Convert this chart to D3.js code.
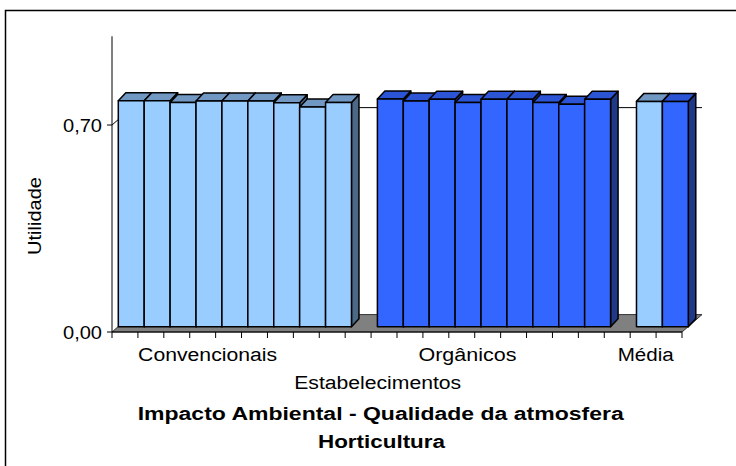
<!DOCTYPE html>
<html>
<head>
<meta charset="utf-8">
<script src="https://cdn.jsdelivr.net/npm/d3@7"></script>
<style>
  html, body { margin: 0; padding: 0; background: #fff; }
  svg { display: block; font-family: "Liberation Sans", Arial, sans-serif; }
</style>
</head>
<body>
<svg id="chart" width="736" height="466"></svg>
<script>
// Utilidade por estabelecimento (impacto ambiental, qualidade da atmosfera)
const groups = ["Convencionais", "Orgânicos", "Média"];
const convencionais = [0.764, 0.764, 0.758, 0.763, 0.763, 0.763, 0.757, 0.743, 0.758];
const organicos = [0.770, 0.763, 0.769, 0.758, 0.769, 0.769, 0.758, 0.752, 0.769];
const mediaConvencionais = [0.762];
const mediaOrganicos = [0.762];
const yTicks = [0, 0.70];
const yTickLabels = ["0,00", "0,70"];

// Slots along the category axis (empty slots separate the groups)
const slots = [];
convencionais.forEach((v, i) => slots.push({ key: "c" + i, value: v, kind: "light" }));
slots.push({ key: "gap1", value: null });
organicos.forEach((v, i) => slots.push({ key: "o" + i, value: v, kind: "dark" }));
slots.push({ key: "gap2", value: null });
mediaConvencionais.forEach((v, i) => slots.push({ key: "mc" + i, value: v, kind: "light" }));
mediaOrganicos.forEach((v, i) => slots.push({ key: "mo" + i, value: v, kind: "dark" }));

const svg = d3.select("#chart");

// Outer frame
svg.append("rect")
  .attr("x", 5.5).attr("y", 10.5)
  .attr("width", 740).attr("height", 470)
  .attr("fill", "#fff").attr("stroke", "#000").attr("stroke-width", 1.5);

const x = d3.scaleBand().domain(slots.map(d => d.key)).range([112, 682]).padding(0);
const y = d3.scaleLinear().domain([0, 1]).range([332, 36.3]);

// Depth of the 3D box (floor / walls) and of the bars inside it
const depth = { dx: 20, dy: -17.4 };
const barFront = { dx: 6.3, dy: -5.3 };
const barDepth = { dx: 7.5, dy: -8 };

const x0 = x.range()[0], x1 = x.range()[1];

// Floor
svg.append("path")
  .attr("d", `M${x0},${y(0)} L${x1},${y(0)} L${x1 + depth.dx},${y(0) + depth.dy} L${x0 + depth.dx},${y(0) + depth.dy} Z`)
  .attr("fill", "#808080").attr("stroke", "#333").attr("stroke-width", 1);

// Gridlines on side wall and back wall
yTicks.filter(t => t > 0).forEach(t => {
  svg.append("path")
    .attr("d", `M${x0},${y(t)} L${x0 + depth.dx},${y(t) + depth.dy} L${x1 + depth.dx},${y(t) + depth.dy}`)
    .attr("fill", "none").attr("stroke", "#000").attr("stroke-width", 1);
});

// Bars
const colors = {
  light: { front: "#99CCFF", top: "#7198C2", side: "#4D6787" },
  dark:  { front: "#3366FF", top: "#2B55D4", side: "#1F3888" }
};

const barsG = svg.append("g");
slots.filter(d => d.value !== null).forEach(d => {
  const c = colors[d.kind];
  const L = x(d.key) + barFront.dx;
  const R = L + x.bandwidth();
  const B = y(0) + barFront.dy;
  const T = y(d.value) + barFront.dy;
  const ddx = barDepth.dx, ddy = barDepth.dy;
  const g = barsG.append("g").attr("stroke", "#000").attr("stroke-width", 1.5).attr("stroke-linejoin", "round");
  // right side
  g.append("path")
    .attr("d", `M${R},${B} L${R + ddx},${B + ddy} L${R + ddx},${T + ddy} L${R},${T} Z`)
    .attr("fill", c.side);
  // top
  g.append("path")
    .attr("d", `M${L},${T} L${L + ddx},${T + ddy} L${R + ddx},${T + ddy} L${R},${T} Z`)
    .attr("fill", c.top);
  // front
  g.append("rect")
    .attr("x", L).attr("y", T)
    .attr("width", R - L).attr("height", B - T)
    .attr("fill", c.front);
});

// Value axis
const yAxis = svg.append("g");
yAxis.append("line")
  .attr("x1", x0).attr("x2", x0).attr("y1", y(1)).attr("y2", y(0))
  .attr("stroke", "#000").attr("stroke-width", 1);
yTicks.forEach((t, i) => {
  yAxis.append("line")
    .attr("x1", x0 - 5).attr("x2", x0).attr("y1", y(t)).attr("y2", y(t))
    .attr("stroke", "#000").attr("stroke-width", 1);
  yAxis.append("text")
    .attr("x", 102).attr("y", y(t) + 6.5)
    .attr("text-anchor", "end")
    .attr("font-size", 18)
    .attr("textLength", 39).attr("lengthAdjust", "spacingAndGlyphs")
    .text(yTickLabels[i]);
});

// Category axis
const xAxis = svg.append("g");
xAxis.append("line")
  .attr("x1", x0).attr("x2", x1).attr("y1", y(0)).attr("y2", y(0))
  .attr("stroke", "#000").attr("stroke-width", 1);
const bounds = slots.map(d => x(d.key)).concat([x1]);
bounds.forEach(b => {
  xAxis.append("line")
    .attr("x1", b).attr("x2", b).attr("y1", y(0)).attr("y2", y(0) + 6)
    .attr("stroke", "#000").attr("stroke-width", 1);
});

// Group labels, positioned in slot units along the category axis
const groupLabelPos = [3.69, 13.72, 20.6];
const groupLabelWidth = [139, 98, 56];
const step = x.step();
groups.forEach((g, i) => {
  svg.append("text")
    .attr("x", x0 + groupLabelPos[i] * step)
    .attr("y", 361)
    .attr("text-anchor", "middle")
    .attr("font-size", 18)
    .attr("textLength", groupLabelWidth[i]).attr("lengthAdjust", "spacingAndGlyphs")
    .text(g);
});

// Axis titles
svg.append("text")
  .attr("x", 377.7).attr("y", 389)
  .attr("text-anchor", "middle")
  .attr("font-size", 18)
  .attr("textLength", 167).attr("lengthAdjust", "spacingAndGlyphs")
  .text("Estabelecimentos");

svg.append("text")
  .attr("transform", "translate(41,216) rotate(-90)")
  .attr("text-anchor", "middle")
  .attr("font-size", 18)
  .attr("textLength", 78).attr("lengthAdjust", "spacingAndGlyphs")
  .text("Utilidade");

// Chart title
svg.append("text")
  .attr("x", 380.7).attr("y", 420)
  .attr("text-anchor", "middle")
  .attr("font-size", 18).attr("font-weight", "bold")
  .attr("textLength", 486).attr("lengthAdjust", "spacingAndGlyphs")
  .text("Impacto Ambiental - Qualidade da atmosfera");

svg.append("text")
  .attr("x", 381.5).attr("y", 448)
  .attr("text-anchor", "middle")
  .attr("font-size", 18).attr("font-weight", "bold")
  .attr("textLength", 127).attr("lengthAdjust", "spacingAndGlyphs")
  .text("Horticultura");
</script>
</body>
</html>
